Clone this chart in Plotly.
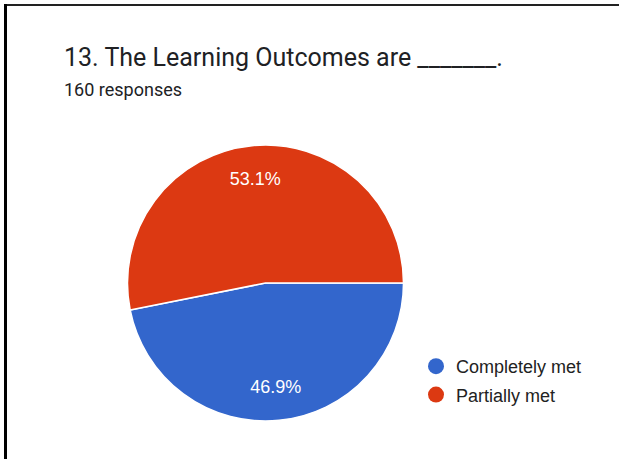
import plotly.graph_objects as go

W, H = 619, 459

# Survey answers (160 responses)
categories = ["Completely met", "Partially met"]
counts = [75, 85]
colors = ["#3366cc", "#dc3912"]

title_text = "13. The Learning Outcomes are _______."
subtitle_text = "160 responses"

# pie placement in pixels -> paper fractions
cx, cy, r = 265.5, 283.0, 138.0
dom_x = [(cx - r) / W, (cx + r) / W]
dom_y = [(H - cy - r) / H, (H - cy + r) / H]

fig = go.Figure()

# filled slices
fig.add_trace(go.Pie(
    labels=categories,
    values=counts,
    sort=False,
    direction="clockwise",
    rotation=90,
    marker=dict(colors=colors, line=dict(color="white", width=1.5)),
    textinfo="none",
    hoverinfo="label+percent",
    showlegend=False,
    domain=dict(x=dom_x, y=dom_y),
))

# percentage labels, set in the outer ring of the same slices
fig.add_trace(go.Pie(
    labels=categories,
    values=counts,
    sort=False,
    direction="clockwise",
    rotation=90,
    hole=0.52,
    marker=dict(colors=["rgba(0,0,0,0)"] * len(categories), line=dict(width=0)),
    textinfo="percent",
    textposition="inside",
    insidetextorientation="horizontal",
    insidetextfont=dict(color="white", size=18, family="Liberation Sans, Arial"),
    hoverinfo="skip",
    showlegend=False,
    domain=dict(x=dom_x, y=dom_y),
))

# round legend markers
for name, col in zip(categories, colors):
    fig.add_trace(go.Scatter(
        x=[None], y=[None], mode="markers", name=name,
        marker=dict(color=col, size=16, symbol="circle"),
        legendgroup=name, showlegend=True,
    ))

fig.update_layout(
    width=W, height=H,
    margin=dict(l=0, r=0, t=0, b=0),
    paper_bgcolor="white",
    plot_bgcolor="white",
    xaxis=dict(visible=False),
    yaxis=dict(visible=False),
    showlegend=True,
    legend=dict(
        x=(437 - 21) / W, xanchor="left",
        y=(H - 348) / H, yanchor="top",
        bgcolor="rgba(0,0,0,0)",
        font=dict(family="Liberation Sans, Arial", size=18, color="#222222"),
        itemsizing="trace",
        tracegroupgap=2,
    ),
    annotations=[
        dict(text=title_text, x=62 / W, y=(H - 57) / H, xref="paper", yref="paper",
             xanchor="left", yanchor="middle", showarrow=False,
             font=dict(family="Roboto", size=25, color="#202124")),
        dict(text=subtitle_text, x=62 / W, y=(H - 89.5) / H, xref="paper", yref="paper",
             xanchor="left", yanchor="middle", showarrow=False,
             font=dict(family="Roboto", size=18, color="#202124")),
    ],
    shapes=[
        # frame lines on the top and left edges
        dict(type="line", xref="paper", yref="paper",
             x0=4 / W, x1=1, y0=(H - 5) / H, y1=(H - 5) / H,
             line=dict(color="#222222", width=2)),
        dict(type="line", xref="paper", yref="paper",
             x0=5.5 / W, x1=5.5 / W, y0=0, y1=(H - 4) / H,
             line=dict(color="black", width=3)),
    ],
)

fig.write_html("out.html")
